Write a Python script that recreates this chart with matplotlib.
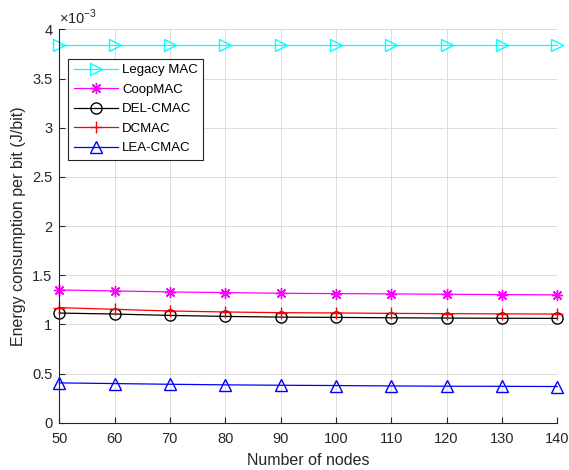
import matplotlib.pyplot as plt
from matplotlib.ticker import FuncFormatter

plt.rcParams['font.family'] = ['Liberation Sans', 'DejaVu Sans']
plt.rcParams['mathtext.fontset'] = 'custom'
plt.rcParams['mathtext.rm'] = 'Liberation Sans'

nodes = [50, 60, 70, 80, 90, 100, 110, 120, 130, 140]
legacy = [3.84e-3] * 10
coopmac = [1.350e-3, 1.340e-3, 1.330e-3, 1.323e-3, 1.316e-3, 1.313e-3, 1.310e-3, 1.306e-3, 1.303e-3, 1.300e-3]
delcmac = [1.115e-3, 1.105e-3, 1.091e-3, 1.081e-3, 1.074e-3, 1.071e-3, 1.067e-3, 1.064e-3, 1.062e-3, 1.061e-3]
dcmac = [1.170e-3, 1.153e-3, 1.136e-3, 1.126e-3, 1.119e-3, 1.116e-3, 1.112e-3, 1.109e-3, 1.107e-3, 1.105e-3]
leacmac = [0.405e-3, 0.398e-3, 0.391e-3, 0.385e-3, 0.381e-3, 0.378e-3, 0.374e-3, 0.371e-3, 0.370e-3, 0.368e-3]

fig = plt.figure(figsize=(5.69, 4.70), dpi=100)
ax = fig.add_axes([0.1042, 0.1006, 0.875, 0.837])

lw = 0.9
ax.plot(nodes, legacy, color='#00ffff', marker='>', mfc='none', ms=8, lw=lw, label='Legacy MAC', clip_on=False)
ax.plot(nodes, coopmac, color='#ff00ff', marker=(8, 2, 0), ms=8, mew=1.0, lw=lw, label='CoopMAC', clip_on=False)
ax.plot(nodes, delcmac, color='black', marker='o', mfc='none', ms=8, lw=lw, label='DEL-CMAC', clip_on=False)
ax.plot(nodes, dcmac, color='red', marker='+', ms=9, lw=lw, label='DCMAC', clip_on=False)
ax.plot(nodes, leacmac, color='blue', marker='^', mfc='none', ms=8, lw=lw, label='LEA-CMAC', clip_on=False)

ax.set_xlim(50, 140)
ax.set_ylim(0, 4e-3)
ax.set_xticks(nodes)
ax.set_yticks([i * 0.5e-3 for i in range(9)])
ax.yaxis.set_major_formatter(FuncFormatter(lambda v, p: '%g' % round(v * 1e3, 3)))
ax.text(0.0, 1.006, r'$\times10^{-3}$', transform=ax.transAxes, fontsize=10.5,
        ha='left', va='bottom', color='#262626')
ax.grid(True, color='#dcdcdc', lw=0.7)
ax.tick_params(direction='in', labelsize=10.5, length=4, colors='#262626')
ax.tick_params(axis='x', pad=7)
ax.tick_params(axis='y', pad=5)
ax.spines['top'].set_visible(False)
ax.spines['right'].set_visible(False)
for s in ['left', 'bottom']:
    ax.spines[s].set_linewidth(0.8)
    ax.spines[s].set_color('#262626')

ax.set_xlabel('Number of nodes', fontsize=11.5, labelpad=5, color='#262626')
ax.set_ylabel('Energy consumption per bit (J/bit)', fontsize=11.5, color='#262626')

leg = ax.legend(loc='upper left', bbox_to_anchor=(0.018, 0.925), fontsize=9.5,
                fancybox=False, edgecolor='#262626', framealpha=1,
                handlelength=3.4, handletextpad=0.3, borderaxespad=0,
                labelspacing=0.55)
leg.get_frame().set_linewidth(0.8)

fig.savefig('out.png', dpi=100)
